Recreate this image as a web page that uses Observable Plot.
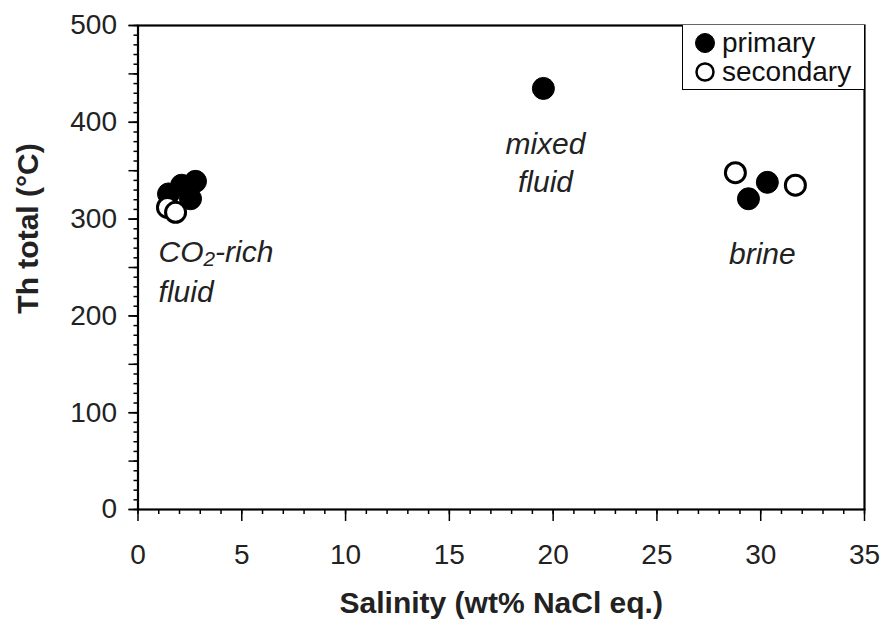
<!DOCTYPE html>
<html>
<head>
<meta charset="utf-8">
<script src="https://cdn.jsdelivr.net/npm/d3@7"></script>
<script src="https://cdn.jsdelivr.net/npm/@observablehq/plot@0.6"></script>
<style>
  body { margin: 0; background: #fff; }
  #wrap { position: relative; width: 886px; height: 620px; font-family: "Liberation Sans", Arial, sans-serif; }
  #legend { position: absolute; left: 682px; top: 25px; width: 181px; height: 64px;
            border-left: 1.5px solid #000; border-bottom: 1.5px solid #000; background: #fff; }
  .item { position: absolute; left: 11px; height: 30px; display: flex; align-items: center; font-size: 28px; color: #111; }
  .item svg { margin-right: 6px; }
</style>
</head>
<body>
<div id="wrap"></div>
<script>
// Data
const primaryX = [2.77, 2.10, 1.47, 2.53, 19.53, 30.32, 29.41];
const primaryY = [339, 335, 326, 321, 435, 338, 321];
const secondaryX = [1.42, 1.81, 28.78, 31.67];
const secondaryY = [312, 307, 348, 335];

const xMajorTicks = [0, 5, 10, 15, 20, 25, 30, 35];
const yLabelTicks = [0, 100, 200, 300, 400, 500];

const centerLabels = ["mixed\nfluid", "brine"];
const centerLabelX = [19.63, 30.08];
const centerLabelY = [360, 266];
const leftLabels = ["CO\u2082-rich\nfluid"];
const leftLabelX = [0.99];
const leftLabelY = [248];

const xTitle = "Salinity (wt% NaCl eq.)";
const yTitle = "Th total (°C)";
const legendNames = ["primary", "secondary"];

const primary = primaryX.map((x, i) => ({x, y: primaryY[i]}));
const secondary = secondaryX.map((x, i) => ({x, y: secondaryY[i]}));
const centerData = centerLabels.map((t, i) => ({t, x: centerLabelX[i], y: centerLabelY[i]}));
const leftData = leftLabels.map((t, i) => ({t, x: leftLabelX[i], y: leftLabelY[i]}));

const font = "Liberation Sans, Arial, sans-serif";

const chart = Plot.plot({
  width: 886,
  height: 620,
  marginLeft: 137.5,
  marginRight: 22,
  marginTop: 25,
  marginBottom: 111,
  style: { fontFamily: font, fontSize: "28px", color: "#000", background: "#fff" },
  x: { domain: [0, 35] },
  y: { domain: [0, 500] },
  marks: [
    Plot.frame({ stroke: "#000", strokeWidth: 2.2 }),
    // minor x ticks
    Plot.axisX({ ticks: d3.range(0, 36, 1), tickSize: 5, text: null, label: null, strokeWidth: 1.5 }),
    // major x ticks with labels
    Plot.axisX({ ticks: xMajorTicks, tickSize: 12, tickPadding: 23, tickFormat: d3.format("d"), label: null, strokeWidth: 1.5, fontSize: 28, fill: "#222" }),
    // minor y ticks
    Plot.axisY({ ticks: d3.range(0, 501, 10), tickSize: 4, text: null, label: null, strokeWidth: 1.5 }),
    // major y ticks (every 50)
    Plot.axisY({ ticks: d3.range(0, 501, 50), tickSize: 9, text: null, label: null, strokeWidth: 1.5 }),
    // y labels
    Plot.axisY({ ticks: yLabelTicks, tickSize: 9, tickPadding: 12, tickFormat: d3.format("d"), label: null, strokeWidth: 1.5, fontSize: 28, fill: "#222" }),
    // axis titles
    Plot.text([xTitle], { frameAnchor: "bottom", dy: 94, textAnchor: "middle", lineAnchor: "middle", fontWeight: "bold", fontSize: 30, fill: "#222" }),
    Plot.text([yTitle], { frameAnchor: "left", dx: -110, dy: -39, textAnchor: "middle", lineAnchor: "middle", rotate: -90, fontWeight: "bold", fontSize: 30, fill: "#222" }),
    // data
    Plot.dot(primary, { x: "x", y: "y", r: 11, fill: "#000", stroke: "#000", strokeWidth: 1 }),
    Plot.dot(secondary, { x: "x", y: "y", r: 10, fill: "#fff", stroke: "#000", strokeWidth: 3 }),
    // annotations
    Plot.text(centerData, { x: "x", y: "y", text: "t", textAnchor: "middle", lineAnchor: "middle", lineHeight: 1.27, fontSize: 30, fontStyle: "italic", fill: "#222" }),
    Plot.text(leftData, { x: "x", y: "y", text: "t", textAnchor: "start", lineAnchor: "middle", lineHeight: 1.33, fontSize: 30, fontStyle: "italic", fill: "#222" })
  ]
});

const wrap = document.getElementById("wrap");
wrap.appendChild(chart);

// Legend (HTML overlay)
const legend = document.createElement("div");
legend.id = "legend";
legendNames.forEach((name, i) => {
  const item = document.createElement("div");
  item.className = "item";
  item.style.top = (i === 0 ? 3 : 32) + "px";
  const filled = i === 0;
  item.innerHTML = `<svg width="22" height="22" viewBox="0 0 22 22"><circle cx="11" cy="11" r="${filled ? 9.5 : 8.5}" fill="${filled ? "#000" : "#fff"}" stroke="#000" stroke-width="${filled ? 1 : 2.5}"/></svg><span>${name}</span>`;
  legend.appendChild(item);
});
wrap.appendChild(legend);
</script>
</body>
</html>
